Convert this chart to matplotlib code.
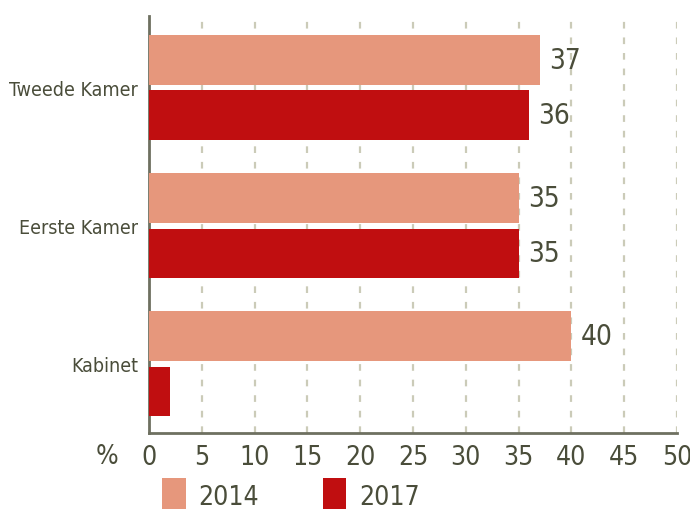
import numpy as np
import matplotlib.pyplot as plt

plt.rcParams['font.family'] = ['DejaVu Sans']
plt.rcParams['font.stretch'] = 'condensed'

categories = ['Tweede Kamer', 'Eerste Kamer', 'Kabinet']
vals_2014 = [37, 35, 40]
vals_2017 = [36, 35, 2]
label_2014 = ['37', '35', '40']
label_2017 = ['36', '35', '']
xticks = [0, 5, 10, 15, 20, 25, 30, 35, 40, 45, 50]

c14 = '#e6977c'
c17 = '#c00e10'
txt = '#4a4d3a'
axc = '#6e7060'

fig = plt.figure(figsize=(6.9, 5.1), dpi=100)
ax = fig.add_axes([0.216, 0.149, 0.765, 0.818])

y = np.arange(len(categories))
h = 0.36
b1 = ax.barh(y - 0.2, vals_2014, height=h, color=c14, label='2014', zorder=3)
b2 = ax.barh(y + 0.2, vals_2017, height=h, color=c17, label='2017', zorder=3)

for bars, labs in [(b1, label_2014), (b2, label_2017)]:
    for r, l in zip(bars, labs):
        if l:
            ax.text(r.get_width() + 0.9, r.get_y() + r.get_height() / 2, l,
                    va='center', ha='left', fontsize=20, color=txt)

ax.set_xlim(0, 50)
ax.set_ylim(2.5, -0.52)
ax.set_xticks(xticks)
ax.set_yticks(y)
ax.set_yticklabels(categories, fontsize=14, color=txt)
ax.tick_params(axis='x', length=0, pad=8, labelsize=19, labelcolor=txt)
ax.tick_params(axis='y', length=0, pad=8)
ax.grid(axis='x', color='#cbcbb8', linestyle=(0, (3, 4)), linewidth=1.6, zorder=0)
for s in ['top', 'right']:
    ax.spines[s].set_visible(False)
for s in ['left', 'bottom']:
    ax.spines[s].set_color(axc)
    ax.spines[s].set_linewidth(2)

fig.text(96 / 690, 1 - 457 / 510, '%', fontsize=19, color=txt, ha='left', va='center')

fig.legend(handles=[b1, b2], loc='lower left', bbox_to_anchor=(0.2, -0.055),
           ncol=2, frameon=False, fontsize=19, labelcolor=txt,
           handlelength=0.9, handleheight=1.7, handletextpad=0.5, columnspacing=2.4)

fig.savefig('out.png', dpi=100)
